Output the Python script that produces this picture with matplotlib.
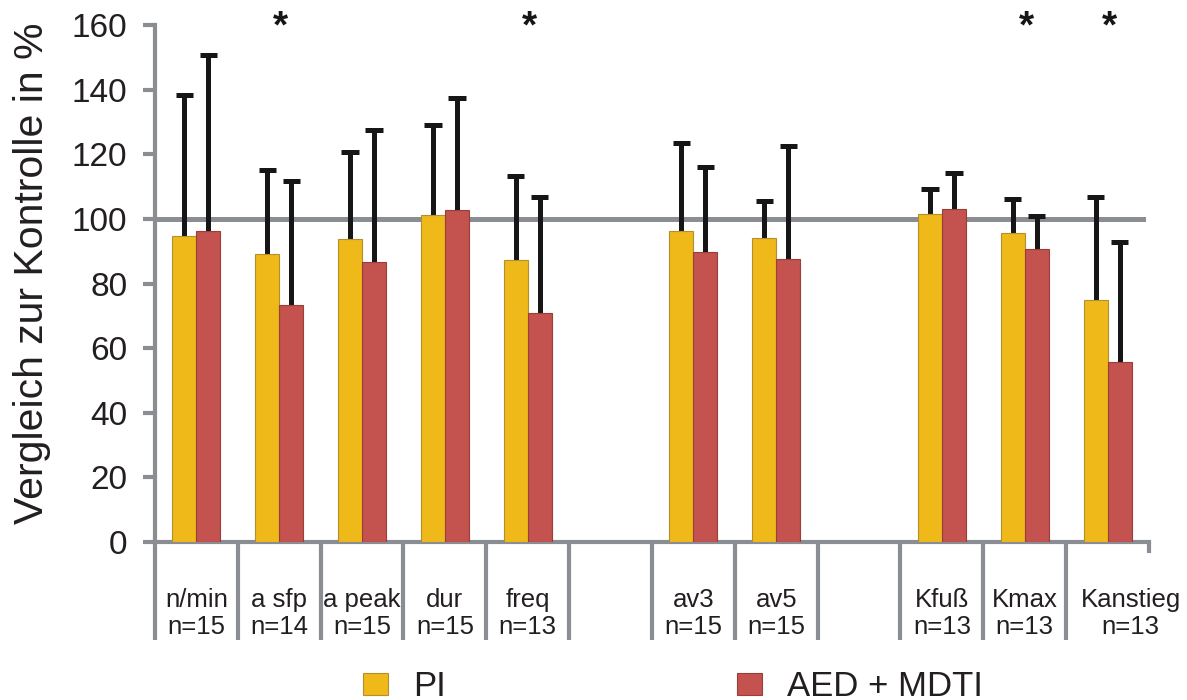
"""
Bar chart: PI vs AED + MDTI, relative to control (%), with upper SD bars.
"""

import matplotlib
matplotlib.use("Agg")
import matplotlib.pyplot as plt
import numpy as np
from matplotlib.patches import Patch

plt.rcParams.update({
    "font.family": ["Liberation Sans", "DejaVu Sans"],
    "font.size": 18,
    "text.color": "#231f20",
    "ytick.labelcolor": "#231f20",
})

# ── Data ──────────────────────────────────────────────────────────────────────
categories = ["n/min", "a sfp", "a peak", "dur", "freq", "",
              "av3", "av5", "", "Kfuß", "Kmax", "Kanstieg"]
n_labels   = ["n=15", "n=14", "n=15", "n=15", "n=13", "",
              "n=15", "n=15", "", "n=13", "n=13", "n=13"]

pi_mean  = [94.8, 89.1, 93.9, 101.2, 87.3, np.nan, 96.4, 94.0, np.nan, 101.4, 95.6, 74.9]
pi_sd    = [43.4, 26.1, 26.9, 27.9, 26.1, np.nan, 27.0, 11.4, np.nan, 7.9, 10.5, 32.0]
aed_mean = [96.4, 73.2, 86.5, 102.8, 70.9, np.nan, 89.9, 87.5, np.nan, 103.0, 90.7, 55.7]
aed_sd   = [54.2, 38.6, 41.1, 34.6, 36.0, np.nan, 26.1, 35.1, np.nan, 11.3, 10.3, 37.1]

significant = [False, True, False, False, True, False,
               False, False, False, False, True, True]

yticks = [0, 20, 40, 60, 80, 100, 120, 140, 160]

# ── Style ─────────────────────────────────────────────────────────────────────
YELLOW = "#f0b91a"
RED    = "#c4524e"
GRAY   = "#8a8d91"
BLACK  = "#161616"

fig = plt.figure(figsize=(11.87, 7.0), dpi=100)
ax = fig.add_axes([155 / 1187, 1 - 542 / 700, (1149 - 155) / 1187, (542 - 25) / 700])

x = np.arange(len(categories))
w = 0.29
pi_mean, pi_sd = np.array(pi_mean), np.array(pi_sd)
aed_mean, aed_sd = np.array(aed_mean), np.array(aed_sd)
ok = ~np.isnan(pi_mean)

ax.axhline(100, xmax=0.994, color=GRAY, lw=3.6, zorder=1)

ax.bar(x[ok] - w / 2, pi_mean[ok], w, color=YELLOW, edgecolor="#b3902e", lw=0.8, zorder=3)
ax.bar(x[ok] + w / 2, aed_mean[ok], w, color=RED, edgecolor="#9a3e3a", lw=0.8, zorder=3)

# upper-only error bars with a cap on top
cap = 0.105
for xs, m, sd in [(x[ok] - w / 2, pi_mean[ok], pi_sd[ok]),
                  (x[ok] + w / 2, aed_mean[ok], aed_sd[ok])]:
    ax.vlines(xs, m, m + sd, color=BLACK, lw=3.6, zorder=2)
    ax.hlines(m + sd, xs - cap, xs + cap, color=BLACK, lw=3.6, zorder=2)

# significance stars
for xi, s in zip(x, significant):
    if s:
        ax.text(xi + 0.02, 159.3, "*", ha="center", va="center", fontsize=28,
                fontweight="bold", color=BLACK, clip_on=False)

ax.set_xlim(-0.5, len(categories) - 0.5)
ax.set_ylim(0, 160)
ax.set_yticks(yticks)
ax.set_xticks([])
ax.tick_params(axis="y", direction="out", length=9, width=3, color=GRAY,
               labelsize=24, pad=11)
for side in ["top", "right"]:
    ax.spines[side].set_visible(False)
for side in ["left", "bottom"]:
    ax.spines[side].set_color(GRAY)
    ax.spines[side].set_linewidth(3)

fig.text(32 / 1187, 1 - 273 / 700, "Vergleich zur Kontrolle in %", rotation=90,
         ha="center", va="center", fontsize=29.5)

# slot dividers and labels below the axis
trans = ax.get_xaxis_transform()
for i in range(len(categories) + 1):
    bottom = -0.022 if i == len(categories) else -0.19
    ax.plot([i - 0.5, i - 0.5], [0, bottom], transform=trans, color=GRAY,
            lw=3, clip_on=False, solid_capstyle="butt")
for xi, name, nl in zip(x, categories, n_labels):
    xt = xi + 0.28 if xi == len(categories) - 1 else xi  # last label sits right
    ax.text(xt, -0.112, name, transform=trans, ha="center", va="center", fontsize=18.5)
    ax.text(xt, -0.165, nl, transform=trans, ha="center", va="center", fontsize=18.5)

handles = [Patch(facecolor=YELLOW, edgecolor="#b3902e", lw=0.8, label="PI"),
           Patch(facecolor=RED, edgecolor="#9a3e3a", lw=0.8, label="AED + MDTI")]
fig.legend(handles=handles, loc="upper left", bbox_to_anchor=(363 / 1187, 1 - 670 / 700),
           ncol=2, frameon=False, fontsize=25, handlelength=0.72, handleheight=0.6,
           handletextpad=0.72, columnspacing=8.4, borderaxespad=0, borderpad=0)

fig.savefig("out.png", dpi=100)
